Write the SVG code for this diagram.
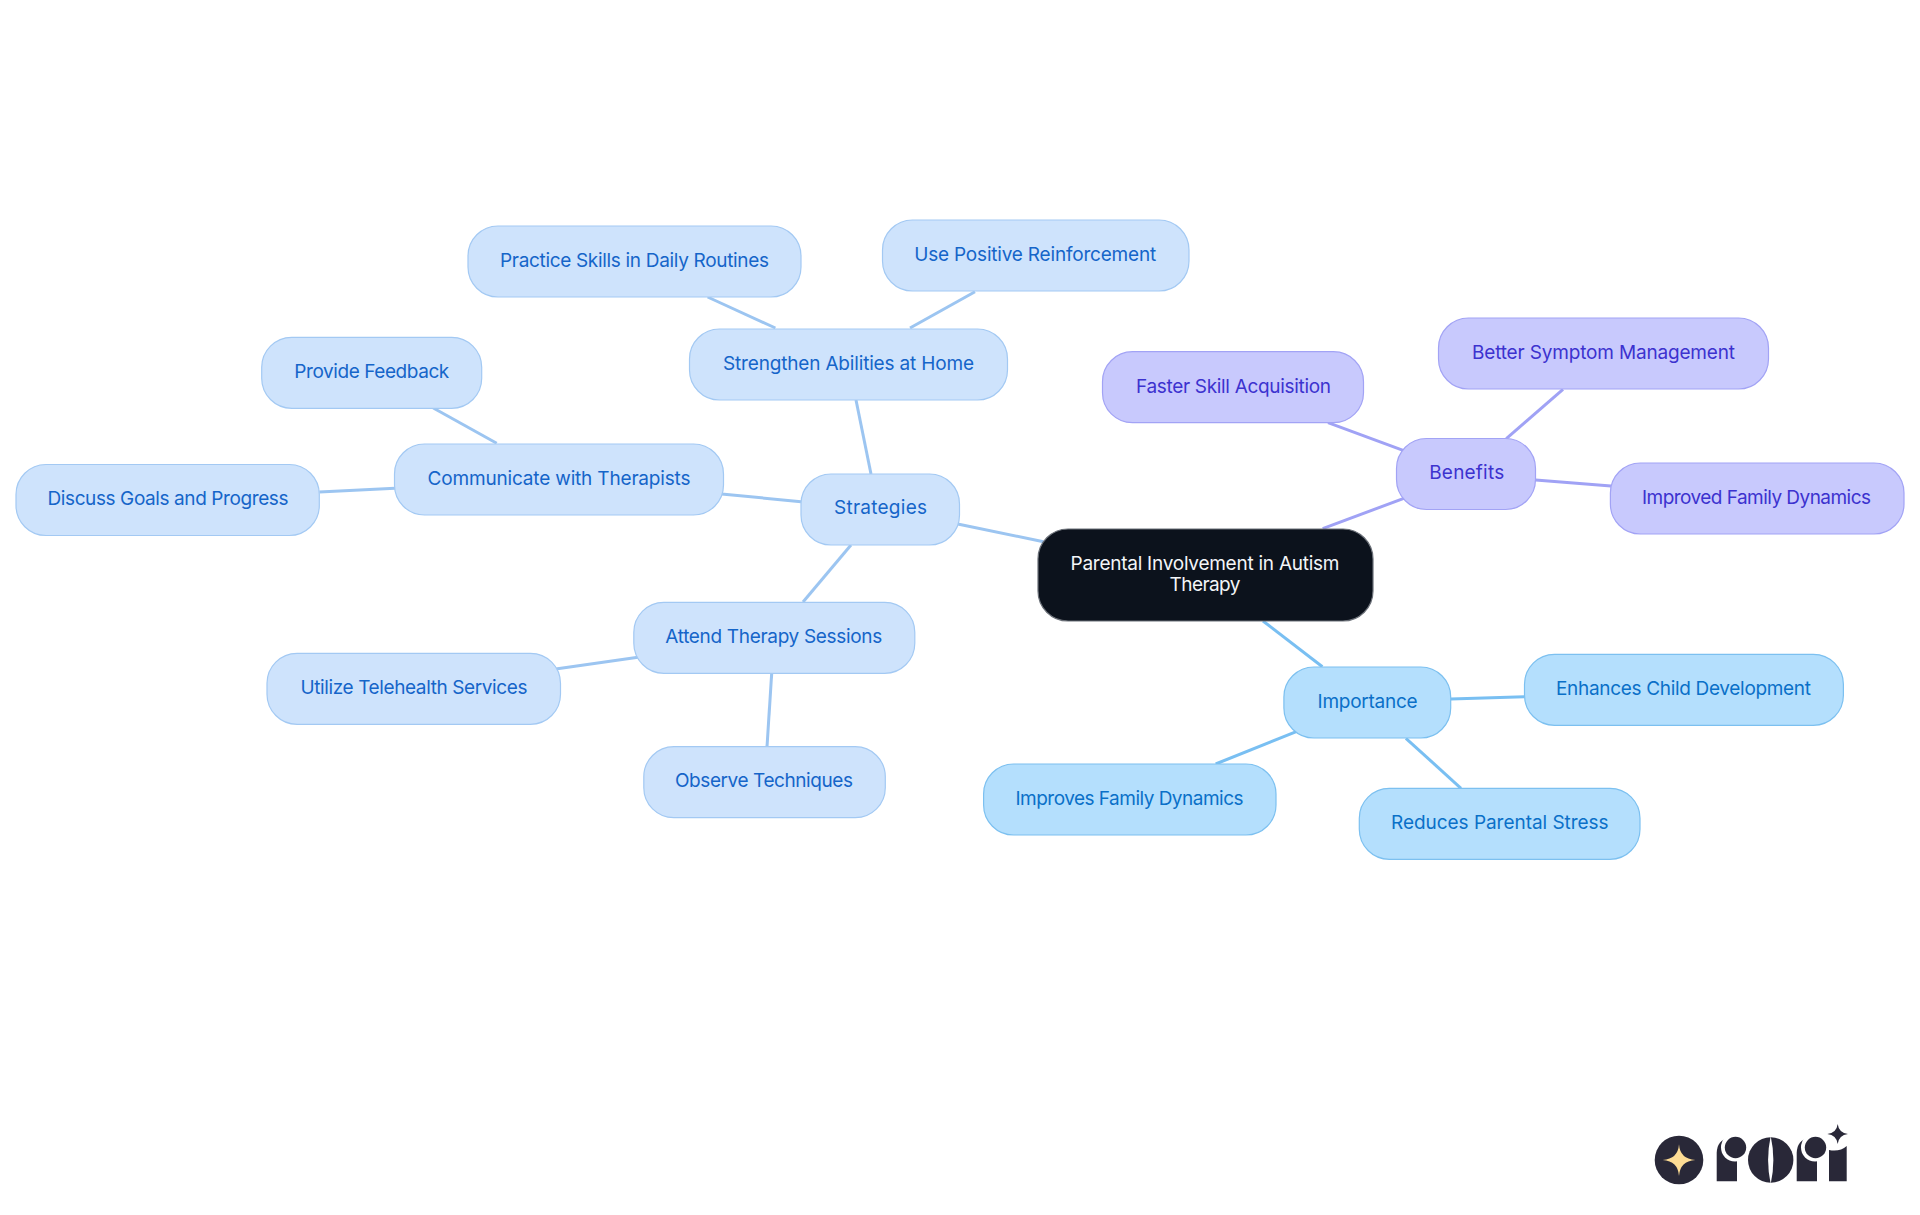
<svg xmlns="http://www.w3.org/2000/svg" width="1920" height="1215" viewBox="0 0 1920 1215">
<style>
text{font-family:Inter,"Noto Sans","Liberation Sans",sans-serif;font-size:19px;font-weight:400;text-anchor:middle;dominant-baseline:central}
.l{fill:none;stroke-width:3}
.s rect{fill:#cee3fc;stroke:#a3c9f3;stroke-width:1.2}.s text{fill:#1565c9}
.i rect{fill:#b4dffd;stroke:#7cc0f0;stroke-width:1.2}.i text{fill:#0a70c8}
.b rect{fill:#c8c9fd;stroke:#a2a3f5;stroke-width:1.2}.b text{fill:#3c32cf}
.ls{stroke:#9cc5f1}.li{stroke:#79bff2}.lb{stroke:#a0a2f5}
.g{fill:#292838}
</style>
<g id="connectors">
<g class="l ls">
<path d="M1043.500 541.700L957.700 524"/><path d="M856 400L871 474"/><path d="M721.600 494L801 501.700"/><path d="M851 545L803 602"/>
<path d="M707.600 297L775.400 328"/><path d="M975 291.700L910 328"/>
<path d="M433.300 408L496.700 443.300"/><path d="M319.300 492L395 488.300"/>
<path d="M555.700 669L638 657.300"/><path d="M771.700 673.300L767 746.700"/>
</g>
<g class="l li"><path d="M1263 621L1322.400 666.700"/><path d="M1450.700 699L1524.500 696.700"/><path d="M1405.900 738.300L1461 788.300"/><path d="M1296.300 731.700L1215.700 764"/></g>
<g class="l lb"><path d="M1322.700 528.700L1403.800 498.300"/><path d="M1328 422.700L1403.800 450.700"/><path d="M1563 389.300L1506.300 438.700"/><path d="M1535.600 480L1611 486"/></g>
</g>
<g id="root"><rect x="1038" y="529" width="335" height="92" rx="30" fill="#0c121c" stroke="#6b7078" stroke-width="1.2"/><text x="1205" y="563" fill="#f3f5f8" textLength="269">Parental Involvement in Autism</text><text x="1205" y="584" fill="#f3f5f8" textLength="71">Therapy</text></g>
<g id="strategies" class="s"><rect x="801" y="474" width="158.500" height="71" rx="30"/><text x="880.500" y="507.500" textLength="93">Strategies</text></g>
<g id="strengthen" class="s"><rect x="689.500" y="329" width="318" height="71" rx="30"/><text x="848.500" y="363" textLength="251">Strengthen Abilities at Home</text></g>
<g id="practice" class="s"><rect x="468" y="226" width="333" height="71" rx="30"/><text x="634.500" y="260" textLength="269">Practice Skills in Daily Routines</text></g>
<g id="positive" class="s"><rect x="882.500" y="220" width="306.500" height="71" rx="30"/><text x="1035.200" y="254" textLength="242">Use Positive Reinforcement</text></g>
<g id="communicate" class="s"><rect x="394.500" y="444" width="329" height="71" rx="30"/><text x="559" y="478" textLength="263">Communicate with Therapists</text></g>
<g id="feedback" class="s"><rect x="261.700" y="337.300" width="220" height="71" rx="30"/><text x="371.800" y="371" textLength="155">Provide Feedback</text></g>
<g id="discuss" class="s"><rect x="16" y="464.500" width="303.300" height="71" rx="30"/><text x="168" y="498" textLength="241">Discuss Goals and Progress</text></g>
<g id="attend" class="s"><rect x="633.800" y="602.300" width="281" height="71" rx="30"/><text x="773.800" y="636" textLength="217">Attend Therapy Sessions</text></g>
<g id="telehealth" class="s"><rect x="267" y="653.300" width="293.500" height="71" rx="30"/><text x="414" y="687" textLength="227">Utilize Telehealth Services</text></g>
<g id="observe" class="s"><rect x="643.800" y="746.700" width="241.500" height="71" rx="30"/><text x="764" y="780" textLength="178">Observe Techniques</text></g>
<g id="benefits" class="b"><rect x="1396.500" y="438.500" width="139" height="71" rx="30"/><text x="1466.700" y="472" textLength="75">Benefits</text></g>
<g id="faster" class="b"><rect x="1102.500" y="351.700" width="261" height="71" rx="30"/><text x="1233.500" y="386" textLength="195">Faster Skill Acquisition</text></g>
<g id="better" class="b"><rect x="1438.500" y="318" width="330" height="71" rx="30"/><text x="1603.500" y="352" textLength="263">Better Symptom Management</text></g>
<g id="improved" class="b"><rect x="1610.400" y="463" width="293.600" height="71" rx="30"/><text x="1756.500" y="497" textLength="229">Improved Family Dynamics</text></g>
<g id="importance" class="i"><rect x="1283.900" y="667" width="166.800" height="71" rx="30"/><text x="1367.600" y="701" textLength="100">Importance</text></g>
<g id="enhances" class="i"><rect x="1524.500" y="654.300" width="318.900" height="71" rx="30"/><text x="1683.500" y="688" textLength="255">Enhances Child Development</text></g>
<g id="reduces" class="i"><rect x="1359.300" y="788.300" width="280.700" height="71" rx="30"/><text x="1499.800" y="822" textLength="217.500">Reduces Parental Stress</text></g>
<g id="improves" class="i"><rect x="983.600" y="764" width="292.400" height="71" rx="30"/><text x="1129.500" y="798" textLength="228">Improves Family Dynamics</text></g>
<g id="logo">
<circle class="g" cx="1679" cy="1160" r="24.300"/>
<path d="M1679 1144.300Q1680 1159 1695.300 1160Q1680 1161 1679 1176Q1678 1161 1662.700 1160Q1678 1159 1679 1144.300Z" fill="#fddc94"/>
<path class="g" d="M1716.700 1181.300V1153Q1717 1140 1729 1138H1737V1181.300Z"/>
<circle cx="1735" cy="1147.500" r="14" fill="#fff"/>
<circle class="g" cx="1735.500" cy="1147.500" r="10.700"/>
<circle class="g" cx="1770.700" cy="1160" r="22.700"/>
<path d="M1770.700 1136Q1765.500 1160 1770.700 1184Q1776 1160 1770.700 1136Z" fill="#fff"/>
<path class="g" d="M1796.700 1181.300V1153Q1797 1140 1809 1138H1817V1181.300Z"/>
<circle cx="1815" cy="1147.500" r="14" fill="#fff"/>
<circle class="g" cx="1815.500" cy="1147.500" r="10.700"/>
<path class="g" d="M1829 1181.300V1150Q1840 1152 1846.700 1146V1181.300Z"/>
<path class="g" d="M1837.700 1124Q1838.800 1132.900 1848 1134Q1838.800 1135.100 1837.700 1144Q1836.600 1135.100 1827.300 1134Q1836.600 1132.900 1837.700 1124Z"/>
</g>
</svg>
